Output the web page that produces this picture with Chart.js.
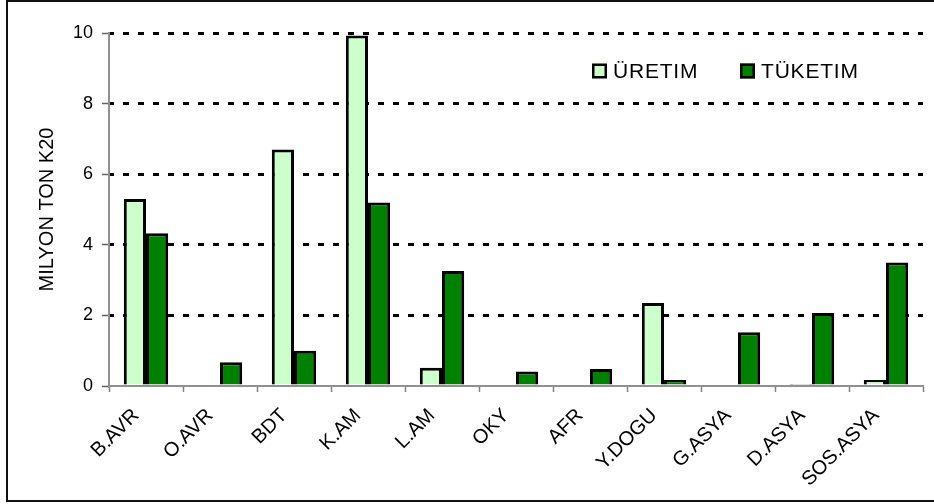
<!DOCTYPE html>
<html>
<head>
<meta charset="utf-8">
<script src="https://cdn.jsdelivr.net/npm/chart.js@4/dist/chart.umd.min.js"></script>
<style>
  body { margin: 0; background: #fff; overflow: hidden; }
  #wrap { position: relative; width: 934px; height: 504px; }
  #frame { position: absolute; left: 6px; top: 0; width: 940px; height: 502px; border: 2px solid #111; box-sizing: border-box; pointer-events: none; }
  canvas { position: absolute; left: 0; top: 0; }
</style>
</head>
<body>
<div id="wrap">
  <canvas id="chBar" width="934" height="504"></canvas>
  <div id="frame"></div>
</div>
<script>
// bolgeler
const regions = ['B.AVR', 'O.AVR', 'BDT', 'K.AM', 'L.AM', 'OKY', 'AFR', 'Y.DOGU', 'G.ASYA', 'D.ASYA', 'SOS.ASYA'];
const uretim = [5.3, 0, 6.7, 9.93, 0.52, 0, 0, 2.35, 0, 0.03, 0.17];
const tuketim = [4.33, 0.67, 1.0, 5.2, 3.26, 0.41, 0.48, 0.17, 1.52, 2.07, 3.5];
const yTicks = [0, 2, 4, 6, 8, 10];
const seriesNames = ['ÜRETIM', 'TÜKETIM'];
const colors = ['#CCFFCC', '#008000'];

const FONT = 'Liberation Sans, Arial, sans-serif';

// legend inside the plot, top right
const insideLegend = {
  id: 'insideLegend',
  afterDraw(chart) {
    const ctx = chart.ctx;
    const spots = [592, 740];
    ctx.save();
    ctx.font = '21px ' + FONT;
    ctx.letterSpacing = '0.8px';
    ctx.textBaseline = 'alphabetic';
    chart.data.datasets.forEach((ds, i) => {
      const bx = spots[i];
      ctx.fillStyle = ds.backgroundColor;
      ctx.fillRect(bx, 63.5, 15, 15);
      ctx.lineWidth = 2.5;
      ctx.strokeStyle = '#000';
      ctx.strokeRect(bx + 1.25, 64.75, 12.5, 12.5);
      ctx.fillStyle = '#000';
      ctx.fillText(ds.label, bx + 21, 77.5);
    });
    ctx.restore();
  }
};

const barData = {
  labels: regions,
  datasets: [
    { label: seriesNames[0], data: uretim, backgroundColor: colors[0], borderColor: '#000', borderWidth: 3 },
    { label: seriesNames[1], data: tuketim, backgroundColor: colors[1], borderColor: '#000', borderWidth: 3 }
  ]
};

const barOptions = {
  responsive: false,
  animation: false,
  layout: { padding: { top: 33, right: 11, bottom: 0, left: 0 } },
  plugins: { legend: { display: false }, tooltip: { enabled: false } },
  datasets: { bar: { barPercentage: 1, categoryPercentage: 0.6 } },
  scales: {
    x: {
      offset: true,
      grid: { display: true, drawOnChartArea: false, offset: true, tickLength: 6, tickColor: '#808080', tickWidth: 1.5 },
      border: { display: true, color: '#909090', width: 2 },
      ticks: { color: '#000', font: { family: FONT, size: 20 }, minRotation: 45, maxRotation: 45, padding: 12, labelOffset: -10, autoSkip: false },
      afterFit: s => { s.height = 504 - 386; }
    },
    y: {
      min: 0, max: 10,
      afterBuildTicks: s => { s.ticks = yTicks.map(v => ({ value: v })); },
      grid: {
        color: c => (c.tick && c.tick.value === 0) ? 'rgba(0,0,0,0)' : '#000',
        lineWidth: 3,
        tickLength: 7,
        tickColor: '#606060',
        tickWidth: 1.5,
        tickBorderDash: []
      },
      border: { display: true, color: '#909090', width: 2, dash: [6, 9], dashOffset: 2 },
      ticks: { color: '#000', font: { family: FONT, size: 18 }, padding: 9 },
      title: { display: true, text: 'MILYON TON K20', color: '#000', font: { family: FONT, size: 20 }, padding: { top: 35, bottom: 0 } },
      afterFit: s => { s.width = 109; }
    }
  }
};

const chBar = document.getElementById('chBar');
if (chBar) {
  new Chart(chBar, {
    type: 'bar',
    data: barData,
    options: barOptions,
    plugins: [insideLegend]
  });
}
</script>
</body>
</html>
